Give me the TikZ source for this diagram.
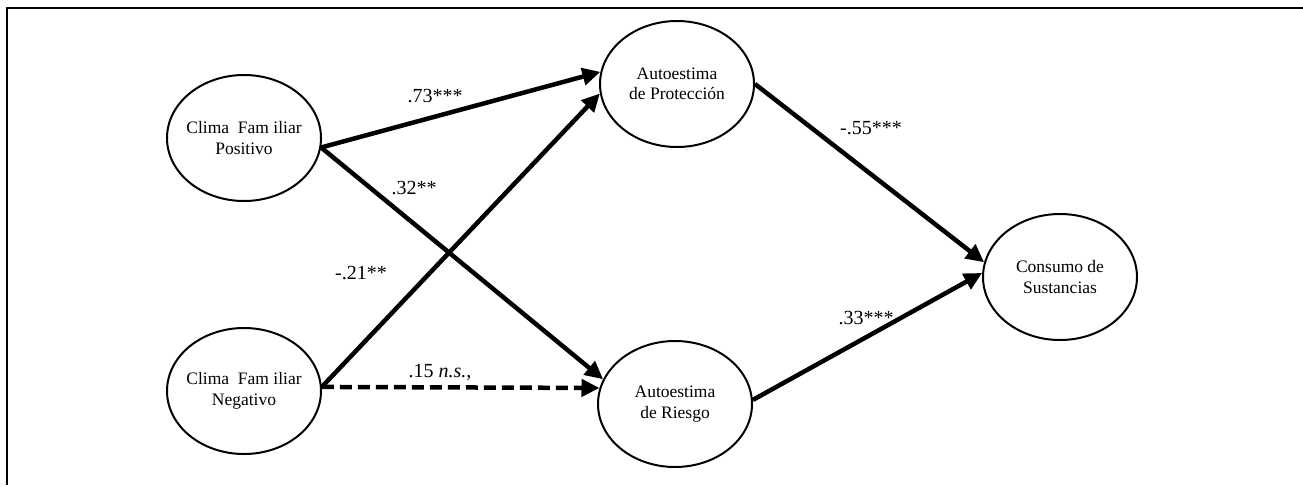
\documentclass[tikz,border=0pt]{standalone}
\usepackage{fontspec}
\setmainfont{Liberation Serif}
\usetikzlibrary{arrows.meta,shapes.geometric}
\begin{document}
\begin{tikzpicture}[x=1pt,y=-1pt,
  latent/.style={ellipse, draw, line width=2pt, minimum width=154pt, minimum height=126pt, inner xsep=-8pt, inner ysep=0pt, align=center, font=\fontsize{17.5}{20.5}\selectfont},
  pathar/.style={line width=4.5pt, -{Triangle[length=18pt,width=17pt]}},
  coef/.style={font=\fontsize{20}{24}\selectfont, inner sep=0pt}]
\useasboundingbox (0,0) rectangle (1303,485);
\draw[line width=1.8pt] (7,485) -- (7,8) -- (1303,8);

\node[latent] (cfp) at (244,138) {Clima\ \ Fam iliar\\Positivo};
\node[latent] (cfn) at (244,391) {Clima\ \ Fam iliar\\Negativo};
\node[latent] (ap) at (677,84) {Autoestima\\de Protección};
\node[latent] (ar) at (675,404) {Autoestima\\de Riesgo};
\node[latent] (cs) at (1060,277) {Consumo de\\Sustancias};

\draw[pathar] (cfp.353) -- (ap.171);
\draw[pathar] (cfp.353) -- (ar.161);
\draw[pathar] (cfn.3) -- (ap.187);
\draw[pathar, dash pattern=on 12pt off 6pt] (cfn.3) -- (ar.168);
\draw[pathar] (ap.0) -- (cs.169);
\draw[pathar] (ar.3) -- (cs.177);

\node[coef] (l73) at (435,96) {.73***};
\node[coef] (l32) at (414,188) {.32**};
\node[coef] (l21) at (361,273) {-.21**};
\node[coef] (l15) at (440,372) {.15 \textit{n.s.},};
\node[coef] (l55) at (871,128) {-.55***};
\node[coef] (l33) at (866,318) {.33***};
\end{tikzpicture}
\end{document}
